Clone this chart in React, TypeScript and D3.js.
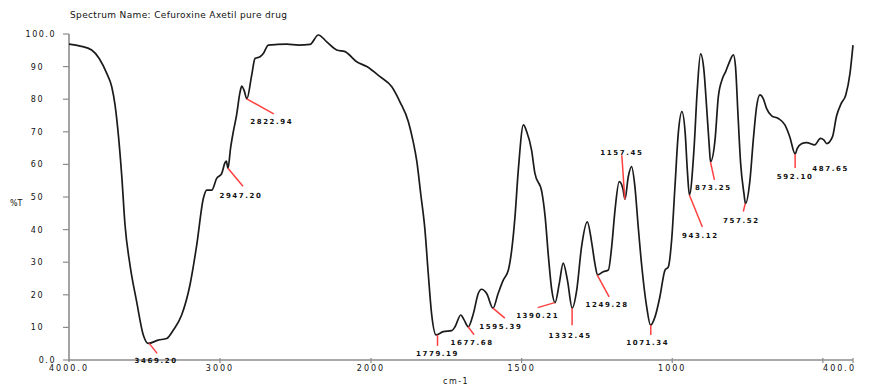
import { useRef, useEffect } from 'react';
import * as d3 from 'd3';

// wavenumber (cm-1) and %T
const wavenumbers = [
  4000, 3925, 3850, 3750, 3717, 3695, 3673, 3651, 3629, 3596, 3552, 3508, 3475, 3409, 3353, 3309,
  3254, 3199, 3154, 3110, 3088, 3055, 3022, 2989, 2967, 2958, 2947, 2930, 2912, 2890, 2868, 2856,
  2841, 2822, 2790, 2768, 2735, 2713, 2680, 2620, 2558, 2480, 2404, 2349, 2293, 2227, 2172, 2095,
  2028, 1970, 1931, 1904, 1876, 1860, 1848, 1835, 1821, 1810, 1799, 1784, 1760, 1732, 1721, 1702,
  1691, 1677, 1660, 1644, 1633, 1616, 1595, 1578, 1561, 1544, 1533, 1522, 1511, 1494, 1483, 1467,
  1456, 1433, 1422, 1411, 1400, 1389, 1375, 1362, 1348, 1332, 1317, 1301, 1282, 1267, 1257, 1248,
  1229, 1212, 1201, 1190, 1176, 1164, 1157, 1146, 1135, 1124, 1113, 1101, 1085, 1072, 1057, 1041,
  1024, 1013, 1002, 991, 980, 968, 957, 950, 943, 928, 917, 906, 895, 886, 877, 873, 858, 847, 833,
  823, 812, 797, 790, 782, 773, 762, 757, 742, 731, 720, 709, 698, 687, 670, 648, 626, 610, 592,
  585, 571, 554, 527, 508, 497, 487, 468, 455, 439, 424, 410, 400,
];
const transmittance = [
  96.9, 96.3, 95.1, 87.9, 83.8, 78.2, 69, 56.7, 41.4, 29.1, 17.9, 7.7, 5.1, 6.1, 6.6, 9.2,
  13.8, 23, 35.3, 49.6, 52.1, 52.1, 55.7, 57.2, 60.5, 61, 58.8, 65, 70, 75.2, 82, 84,
  82.8, 80.1, 87.4, 92.5, 93, 94, 96.6, 96.8, 96.9, 96.6, 96.8, 99.7, 97.6, 95.1, 94.6, 91.5,
  90, 86.9, 83.8, 79.2, 73.1, 67, 61, 51, 40, 26.6, 14.3, 7.7, 8.7, 9, 10.2, 13.8,
  12.3, 10.2, 14.3, 20.4, 21.7, 20.4, 15.9, 20.4, 24.5, 27.6, 33.7, 44, 58.3, 72.1, 70, 64.4,
  57.3, 51.6, 44, 31.7, 21.5, 17.6, 23.5, 29.7, 24.5, 15.9, 21.5, 34.8, 42.4, 35.8, 29.7, 26.1,
  27.1, 27.6, 34.8, 46, 54.7, 52.6, 49.3, 56.2, 59.3, 53.2, 40.9, 28.6, 16.4, 10.7, 13.3, 19.4,
  27.6, 28.6, 36.8, 53.2, 69.5, 76.2, 69.5, 58.3, 50.6, 64.4, 82.8, 93.9, 89, 77.7, 65.4, 60.8, 67.5, 80.8, 86.4,
  88.4, 91, 93.6, 90, 75.7, 60.3, 51.1, 48, 55.2, 67.5, 77.7, 81.3, 80.2, 77.2, 74.9, 74.1, 72.1, 68.5, 63.2,
  64.9, 66.3, 66.7, 66, 68, 67.5, 66.4, 68.5, 74.7, 78.7, 81.3, 87.9, 96.6,
];

// marked peaks
const peakLabels = ['3469.20', '2947.20', '2822.94', '1779.19', '1677.68', '1595.39', '1390.21', '1332.45',
  '1249.28', '1157.45', '1071.34', '943.12', '873.25', '757.52', '592.10', '487.65'];
const peakWavenumbers = [3469.2, 2947.2, 2822.94, 1779.19, 1677.68, 1595.39, 1390.21, 1332.45,
  1249.28, 1157.45, 1071.34, 943.12, 873.25, 757.52, 592.1, 487.65];
const peakTransmittance = [5.1, 58.8, 80.1, 7.7, 10.2, 15.9, 17.6, 15.9, 26.1, 49.3, 10.7, 50.6, 60.8, 48, 63.2, 66.6];

const xTickValues = [4000, 3000, 2000, 1500, 1000, 400];
const xTickLabels = ['4000.0', '3000', '2000', '1500', '1000', '400.0'];
const yTickValues = [0, 10, 20, 30, 40, 50, 60, 70, 80, 90, 100];
const yTickLabels = ['0.0', '10', '20', '30', '40', '50', '60', '70', '80', '90', '100.0'];

// where each leader line ends and its label sits, relative to the peak (layout only)
const leaderOffsets = [[8, 10], [15, 18], [27, 15], [0, 11], [6, 8], [12, 10], [-17, 5], [0, 17],
  [12, 22], [-3, -44], [0, 10], [13, 32], [4, 18], [-2, 8], [0, 14], [0, 0]];
const labelOffsets = [[7, 17], [13, 27], [25, 23], [0, 19], [4, 16], [8, 18], [-17, 13], [-2, 27],
  [10, 30], [-3, -47], [-3, 17], [11, 40], [3, 26], [-4, 17], [0, 23], [4, 26]];

const W = 869;
const H = 387;

const IRSpectrum = () => {
  const svgRef = useRef<SVGSVGElement>(null);

  useEffect(() => {
    if (!svgRef.current) return;
    const svg = d3.select(svgRef.current);
    svg.selectAll('*').remove();

    // 2x expansion below 2000 cm-1
    const x = d3.scaleLinear().domain([4000, 2000, 400]).range([69, 371, 853]);
    const y = d3.scaleLinear().domain([0, 100]).range([360, 34]);

    const axisColor = '#8c8c8c';
    const font = 'DejaVu Sans, Verdana, sans-serif';

    svg.append('text')
      .attr('x', 70).attr('y', 18)
      .attr('font-family', font).attr('font-size', 9)
      .attr('letter-spacing', 0.35)
      .attr('fill', '#111')
      .text('Spectrum Name: Cefuroxine Axetil  pure drug');

    // y axis
    svg.append('line')
      .attr('x1', 69).attr('x2', 69).attr('y1', y(100)).attr('y2', y(0) + 2)
      .attr('stroke', axisColor).attr('stroke-width', 1.6);
    svg.selectAll('.ytick')
      .data(yTickValues)
      .join('line')
      .attr('x1', 63).attr('x2', 69)
      .attr('y1', d => y(d)).attr('y2', d => y(d))
      .attr('stroke', axisColor).attr('stroke-width', 1.2);
    svg.selectAll('.ylab')
      .data(yTickValues)
      .join('text')
      .attr('x', (d, i) => (yTickLabels[i].includes('.') ? 56 : 44))
      .attr('y', d => y(d) + 3)
      .attr('text-anchor', 'end')
      .attr('font-family', font).attr('font-size', 8).attr('letter-spacing', 1.5)
      .attr('fill', '#111')
      .text((d, i) => yTickLabels[i]);

    svg.append('text')
      .attr('x', 10).attr('y', 206)
      .attr('font-family', font).attr('font-size', 8)
      .attr('fill', '#111')
      .text('%T');

    // x axis
    svg.append('line')
      .attr('x1', 69).attr('x2', x(400)).attr('y1', y(0)).attr('y2', y(0))
      .attr('stroke', axisColor).attr('stroke-width', 1.6);
    svg.selectAll('.xtick')
      .data([3000, 2000, 1500, 1000, 500, 400])
      .join('line')
      .attr('x1', d => x(d)).attr('x2', d => x(d))
      .attr('y1', y(0) - 2).attr('y2', y(0) + 3)
      .attr('stroke', axisColor).attr('stroke-width', 1.2);
    svg.selectAll('.xlab')
      .data(xTickValues)
      .join('text')
      .attr('x', d => (d === 400 ? x(d) + 3 : x(d)))
      .attr('y', 371)
      .attr('text-anchor', d => (d === 400 ? 'end' : 'middle'))
      .attr('font-family', font).attr('font-size', 8).attr('letter-spacing', 2)
      .attr('fill', '#111')
      .text((d, i) => xTickLabels[i]);

    svg.append('text')
      .attr('x', 443).attr('y', 384)
      .attr('font-family', font).attr('font-size', 8).attr('letter-spacing', 1.5)
      .attr('fill', '#111')
      .text('cm-1');

    // spectrum
    const points = wavenumbers.map((w, i) => [w, transmittance[i]] as [number, number]);
    const line = d3.line<[number, number]>()
      .x(d => x(d[0]))
      .y(d => y(d[1]))
      .curve(d3.curveMonotoneX);

    svg.append('path')
      .datum(points)
      .attr('fill', 'none')
      .attr('stroke', '#1b1b1b')
      .attr('stroke-width', 1.7)
      .attr('stroke-linejoin', 'round')
      .attr('d', line);

    // peak leaders and labels
    const peaks = peakLabels.map((label, i) => ({
      label,
      px: x(peakWavenumbers[i]),
      py: y(peakTransmittance[i]),
      lo: leaderOffsets[i],
      to: labelOffsets[i],
    }));

    svg.selectAll('.leader')
      .data(peaks.filter(p => p.lo[0] !== 0 || p.lo[1] !== 0))
      .join('line')
      .attr('x1', d => d.px).attr('y1', d => d.py)
      .attr('x2', d => d.px + d.lo[0]).attr('y2', d => d.py + d.lo[1])
      .attr('stroke', '#ff4040').attr('stroke-width', 1.5);

    svg.selectAll('.plab')
      .data(peaks)
      .join('text')
      .attr('x', d => d.px + d.to[0])
      .attr('y', d => d.py + d.to[1] + 2.5)
      .attr('text-anchor', 'middle')
      .attr('font-family', font).attr('font-size', 7).attr('font-weight', 'bold')
      .attr('letter-spacing', 1.6)
      .attr('fill', '#111')
      .text(d => d.label);

    return () => { svg.selectAll('*').remove(); };
  }, []);

  return (
    <svg
      ref={svgRef}
      width={W}
      height={H}
      viewBox={`0 0 ${W} ${H}`}
      style={{ position: 'absolute', left: 0, top: 0, background: '#fff' }}
    />
  );
};

export default function App() {
  return <IRSpectrum />;
}
